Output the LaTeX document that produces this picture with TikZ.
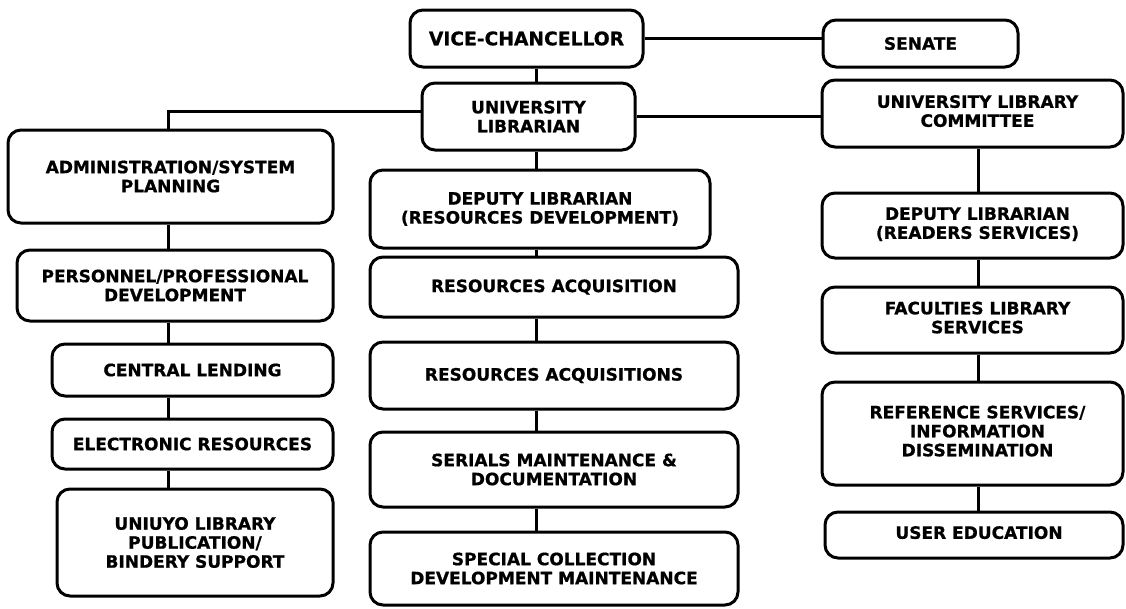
\documentclass[tikz,border=0pt]{standalone}
\usepackage{fontspec}
\setmainfont{DejaVu Sans}[BoldFeatures={FakeBold=0.8}]
\newcommand{\shifttext}[2]{\hspace*{#1}\begin{tabular}{@{}c@{}}#2\end{tabular}}
\begin{document}
\begin{tikzpicture}[x=1pt,y=-1pt,
  box/.style={draw=black, line width=3pt, rounded corners=13pt, fill=white,
    align=center, inner sep=0pt, font=\bfseries\fontsize{17}{19}\selectfont},
  conn/.style={draw=black, line width=3pt}]
\useasboundingbox (0,0) rectangle (1126,608);
\fill[white] (0,0) rectangle (1126,608);
% top
\node[box, minimum width=233pt, minimum height=57pt, font=\bfseries\fontsize{18.7}{20}\selectfont] (vc) at (526.5,38.5) {VICE-CHANCELLOR};
\node[box, minimum width=195pt, minimum height=47pt] (senate) at (920.5,43.5) {SENATE};
\node[box, minimum width=213pt, minimum height=67pt] (ul) at (528.5,116.5) {UNIVERSITY\\LIBRARIAN};
\node[box, minimum width=301pt, minimum height=67pt] (ulc) at (972.5,113.5) {\shifttext{10pt}{UNIVERSITY LIBRARY\\COMMITTEE}};
% left column
\node[box, minimum width=325pt, minimum height=93pt] (admin) at (170.5,176.5) {ADMINISTRATION/SYSTEM\\PLANNING};
\node[box, minimum width=316pt, minimum height=71pt] (pers) at (175,285.5) {PERSONNEL/PROFESSIONAL\\DEVELOPMENT};
\node[box, minimum width=281pt, minimum height=52pt] (cl) at (192.5,370) {CENTRAL LENDING};
\node[box, minimum width=281pt, minimum height=50pt] (er) at (192.5,444) {ELECTRONIC RESOURCES};
\node[box, minimum width=276pt, minimum height=107pt] (uni) at (195,542.5) {UNIUYO LIBRARY\\PUBLICATION/\\BINDERY SUPPORT};
% centre column
\node[box, minimum width=340pt, minimum height=78pt] (dlrd) at (540,209) {DEPUTY LIBRARIAN\\(RESOURCES DEVELOPMENT)};
\node[box, minimum width=368pt, minimum height=60pt] (ra) at (554,287) {RESOURCES ACQUISITION};
\node[box, minimum width=368pt, minimum height=67pt] (ras) at (554,375.5) {RESOURCES ACQUISITIONS};
\node[box, minimum width=368pt, minimum height=75pt] (ser) at (554,469.5) {SERIALS MAINTENANCE \&\\DOCUMENTATION};
\node[box, minimum width=368pt, minimum height=73pt] (spc) at (554,568.5) {SPECIAL COLLECTION\\DEVELOPMENT MAINTENANCE};
% right column
\node[box, minimum width=301pt, minimum height=65pt] (dlrs) at (972.5,225.5) {\shifttext{10pt}{DEPUTY LIBRARIAN\\(READERS SERVICES)}};
\node[box, minimum width=301pt, minimum height=66pt] (fac) at (972.5,320) {\shifttext{10pt}{FACULTIES LIBRARY\\SERVICES}};
\node[box, minimum width=301pt, minimum height=103pt] (ref) at (972.5,433.5) {\shifttext{10pt}{REFERENCE SERVICES/\\INFORMATION\\DISSEMINATION}};
\node[box, minimum width=298pt, minimum height=46pt] (ue) at (974,535) {\shifttext{10pt}{USER EDUCATION}};
% connector guides
\coordinate (lx) at (168,0);
\coordinate (cx) at (536,0);
\coordinate (rx) at (978,0);
\coordinate (lj) at (168,111);
% connectors
\draw[conn] (vc.east) -- (vc.east -| senate.west);
\draw[conn] (ul.east) -- (ul.east -| ulc.west);
\draw[conn] (lj -| ul.west) -- (lj) -- (admin.north -| lj);
\draw[conn] (vc.south -| cx) -- (ul.north -| cx);
\draw[conn] (ul.south -| cx) -- (dlrd.north -| cx);
\draw[conn] (dlrd.south -| cx) -- (ra.north -| cx);
\draw[conn] (ra.south -| cx) -- (ras.north -| cx);
\draw[conn] (ras.south -| cx) -- (ser.north -| cx);
\draw[conn] (ser.south -| cx) -- (spc.north -| cx);
\draw[conn] (admin.south -| lx) -- (pers.north -| lx);
\draw[conn] (pers.south -| lx) -- (cl.north -| lx);
\draw[conn] (cl.south -| lx) -- (er.north -| lx);
\draw[conn] (er.south -| lx) -- (uni.north -| lx);
\draw[conn] (ulc.south -| rx) -- (dlrs.north -| rx);
\draw[conn] (dlrs.south -| rx) -- (fac.north -| rx);
\draw[conn] (fac.south -| rx) -- (ref.north -| rx);
\draw[conn] (ref.south -| rx) -- (ue.north -| rx);
\end{tikzpicture}
\end{document}
